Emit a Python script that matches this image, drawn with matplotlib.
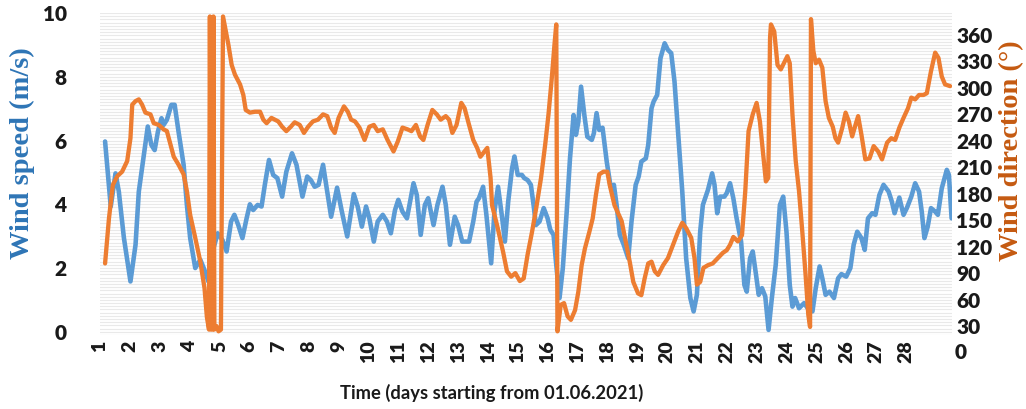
import matplotlib
matplotlib.use("Agg")
import matplotlib.pyplot as plt
import matplotlib.transforms as mtransforms
import numpy as np

# ---- data (time in days starting from 01.06.2021) ----
speed_t = [1.17, 1.36, 1.52, 1.63, 1.80, 2.02, 2.19, 2.30, 2.41, 2.60, 2.72, 2.83, 2.94, 3.06, 3.13,
           3.24, 3.39, 3.50, 3.63, 3.80, 3.91, 4.02, 4.19, 4.36, 4.52, 4.63, 4.80, 4.94, 5.10, 5.24,
           5.39, 5.50, 5.63, 5.77, 5.91, 6.02, 6.13, 6.28, 6.41, 6.52, 6.66, 6.80, 6.94, 7.10, 7.24,
           7.43, 7.58, 7.78, 7.94, 8.06, 8.19, 8.32, 8.47, 8.61, 8.74, 8.94, 9.10, 9.28, 9.50, 9.63,
           9.77, 9.91, 10.02, 10.17, 10.30, 10.47, 10.61, 10.74, 10.88, 10.99, 11.13, 11.28, 11.50,
           11.61, 11.74, 11.88, 11.99, 12.17, 12.30, 12.47, 12.58, 12.72, 12.88, 12.99, 13.13, 13.36,
           13.50, 13.61, 13.69, 13.83, 13.94, 14.10, 14.21, 14.33, 14.47, 14.56, 14.67, 14.80, 14.88,
           14.99, 15.13, 15.21, 15.32, 15.43, 15.52, 15.60, 15.72, 15.86, 15.99, 16.08, 16.19, 16.28,
           16.39, 16.50, 16.63, 16.74, 16.86, 16.94, 17.02, 17.11, 17.22, 17.32, 17.47, 17.54, 17.63,
           17.72, 17.83, 17.97, 18.10, 18.21, 18.30, 18.41, 18.54, 18.69, 18.80, 18.94, 19.04, 19.13,
           19.28, 19.36, 19.47, 19.54, 19.66, 19.77, 19.91, 20.02, 20.13, 20.24, 20.36, 20.50, 20.63,
           20.77, 20.88, 20.99, 21.10, 21.19, 21.36, 21.50, 21.58, 21.67, 21.77, 21.91, 21.99, 22.10,
           22.21, 22.32, 22.47, 22.58, 22.66, 22.77, 22.86, 22.97, 23.06, 23.17, 23.28, 23.39, 23.50,
           23.63, 23.77, 23.88, 23.99, 24.10, 24.19, 24.28, 24.41, 24.58, 24.74, 24.86, 24.97, 25.10,
           25.19, 25.30, 25.43, 25.58, 25.72, 25.83, 25.99, 26.13, 26.24, 26.36, 26.50, 26.61, 26.72,
           26.86, 26.97, 27.10, 27.24, 27.41, 27.52, 27.61, 27.77, 27.91, 28.02, 28.17, 28.30, 28.43,
           28.52, 28.61, 28.72, 28.83, 28.97, 29.06, 29.19, 29.36, 29.43, 29.52]
speed = [5.97, 3.93, 4.97, 4.40, 2.95, 1.58, 2.73, 4.40, 5.14, 6.44, 5.86, 5.70, 6.28, 6.70, 6.49,
         6.65, 7.12, 7.12, 6.28, 5.24, 3.98, 2.94, 2.00, 2.26, 1.89, 1.58, 2.62, 3.09, 2.88, 2.52,
         3.46, 3.67, 3.35, 2.94, 3.56, 4.00, 3.82, 3.98, 3.93, 4.61, 5.39, 4.92, 4.82, 4.24, 5.02,
         5.60, 5.24, 4.24, 4.87, 4.76, 4.55, 4.61, 5.24, 4.40, 3.61, 4.52, 3.77, 2.99, 4.32, 3.93,
         3.30, 3.93, 3.56, 2.83, 3.46, 3.67, 3.46, 3.09, 3.82, 4.14, 3.77, 3.56, 4.66,
         4.29, 3.04, 3.98, 4.19, 3.35, 3.98, 4.55, 3.98, 2.73, 3.61, 3.35, 2.83, 2.83,
         3.46, 4.08, 4.19, 4.55, 3.67, 2.15, 3.77, 4.55, 3.56, 2.83, 4.08, 5.13, 5.50,
         4.92, 4.92, 4.82, 4.76, 4.61, 3.98, 3.35, 3.46, 3.88, 3.56, 3.20, 3.04, 2.10,
         1.06, 2.00, 3.77, 5.44, 6.80, 6.18, 6.59, 7.69, 6.80, 6.12, 6.02, 6.23, 6.86,
         6.33, 6.40, 5.34, 4.55, 4.61, 3.98, 3.04, 2.73, 2.31, 3.46, 4.61, 4.87, 5.34,
         5.44, 5.86, 7.01, 7.22, 7.43, 8.58, 9.05, 8.84, 8.74, 7.85, 6.28, 4.40, 2.31,
         1.06, 0.64, 1.16, 3.14, 3.98, 4.45, 4.97, 4.61, 3.72, 4.24, 4.24, 4.35, 4.66,
         4.19, 3.56, 2.83, 1.47, 1.26, 2.31, 2.52, 1.79, 1.16, 1.37, 1.11, 0.06, 1.06,
         2.10, 3.98, 4.24, 3.14, 1.47, 0.79, 1.06, 0.74, 0.90, 0.69, 0.64, 1.37, 2.05,
         1.68, 1.16, 1.26, 1.06, 1.68, 1.81, 1.73, 2.00, 2.73, 3.14, 2.94, 2.57, 3.56,
         3.72, 3.67, 4.29, 4.61, 4.40, 4.08, 3.72, 4.21, 3.67, 3.88, 4.24, 4.66, 4.40,
         3.77, 2.94, 3.30, 3.88, 3.77, 3.67, 4.50, 5.08, 4.92, 3.56]

dir_t = [1.17, 1.30, 1.43, 1.58, 1.74, 1.91, 2.02, 2.08, 2.19, 2.30, 2.41, 2.52, 2.69, 2.80, 2.97,
         3.13, 3.24, 3.36, 3.47, 3.63, 3.80, 3.91, 4.02, 4.19, 4.36, 4.50, 4.58, 4.65, 4.68, 4.72,
         4.77, 4.80, 4.83, 4.90, 4.97, 5.05, 5.12, 5.30, 5.41, 5.52, 5.69, 5.80, 5.88, 6.02, 6.19,
         6.36, 6.47, 6.58, 6.74, 6.97, 7.10, 7.24, 7.39, 7.52, 7.69, 7.83, 7.97, 8.13, 8.30, 8.47,
         8.61, 8.74, 8.86, 8.99, 9.17, 9.30, 9.41, 9.54, 9.69, 9.86, 10.02, 10.17, 10.30, 10.47,
         10.63, 10.83, 10.97, 11.13, 11.30, 11.43, 11.58, 11.72, 11.83, 11.97, 12.13, 12.28, 12.41,
         12.58, 12.69, 12.80, 12.94, 13.10, 13.21, 13.36, 13.50, 13.63, 13.74, 13.88, 13.97, 14.08,
         14.13, 14.30, 14.50, 14.63, 14.77, 14.91, 15.06, 15.19, 15.32, 15.47, 15.61, 15.77, 15.91,
         16.02, 16.13, 16.22, 16.28, 16.32, 16.43, 16.54, 16.66, 16.77, 16.91, 17.02, 17.13, 17.24,
         17.39, 17.50, 17.61, 17.72, 17.86, 17.99, 18.07, 18.23, 18.47, 18.63, 18.74, 18.86, 19.02,
         19.13, 19.24, 19.36, 19.47, 19.58, 19.69, 19.86, 20.02, 20.19, 20.36, 20.50, 20.63, 20.80,
         20.91, 20.99, 21.10, 21.21, 21.36, 21.52, 21.69, 21.86, 21.99, 22.10, 22.21, 22.36, 22.50,
         22.61, 22.72, 22.86, 22.99, 23.10, 23.21, 23.30, 23.38, 23.44, 23.47, 23.58, 23.69, 23.80,
         24.02, 24.10, 24.19, 24.30, 24.41, 24.52, 24.63, 24.72, 24.78, 24.81, 24.89, 24.97, 25.08,
         25.19, 25.30, 25.41, 25.54, 25.63, 25.72, 25.86, 25.97, 26.08, 26.19, 26.30, 26.39, 26.50,
         26.63, 26.77, 26.91, 27.06, 27.19, 27.36, 27.50, 27.63, 27.77, 27.91, 28.06, 28.17, 28.30,
         28.43, 28.58, 28.69, 28.83, 28.97, 29.08, 29.19, 29.30, 29.47]
direction = [101, 152, 190, 200, 205, 217, 243, 281, 285, 287, 281, 272, 270, 260, 258,
             253, 251, 236, 222, 213, 202, 183, 156, 130, 103, 73, 40, 26, 381, 26,
             26, 381, 26, 30, 24, 26, 381, 349, 326, 315, 304, 292, 275, 272, 273,
             273, 264, 260, 266, 262, 256, 251, 256, 261, 258, 249, 256, 262, 264, 270,
             268, 255, 249, 266, 279, 273, 264, 262, 255, 241, 256, 258, 251, 253,
             241, 228, 239, 255, 253, 251, 258, 245, 241, 258, 275, 270, 264,
             268, 264, 249, 258, 283, 277, 258, 241, 232, 222, 228, 232, 198,
             167, 144, 114, 92, 86, 90, 81, 84, 111, 137, 164, 198, 236,
             270, 311, 349, 372, 24, 54, 56, 41, 37, 48, 69, 99, 118,
             137, 152, 179, 202, 205, 205, 190, 167, 149, 122, 103, 80, 67,
             65, 84, 101, 103, 92, 88, 99, 107, 122, 137, 147, 141, 130,
             107, 77, 80, 96, 99, 101, 107, 113, 116, 122, 131, 126, 133,
             183, 251, 270, 283, 262, 224, 194, 198, 357, 372, 364, 326, 321,
             336, 328, 270, 217, 183, 137, 88, 43, 29, 378, 342, 328, 332,
             323, 285, 266, 256, 243, 238, 255, 272, 262, 245, 258, 268, 247,
             219, 220, 234, 228, 219, 238, 243, 241, 255, 266, 277, 289, 287,
             292, 292, 294, 319, 340, 334, 313, 304, 302]

day_ticks = list(range(1, 29))
speed_ticks = [0, 2, 4, 6, 8, 10]
dir_ticks = list(range(30, 361, 30))

BLUE = "#5B9BD5"
ORANGE = "#ED7D31"
TXT = "#1a1a1a"
TICKFONT = dict(fontfamily="Lato", fontweight="heavy")

W, H = 1026, 409
fig = plt.figure(figsize=(W / 100, H / 100), dpi=100)
L, R, T, B = 100, 952, 13, 335
ax1 = fig.add_axes([L / W, 1 - B / H, (R - L) / W, (B - T) / H])

# left axis: 0 at y=332px, 10 at y=13px
ppu = (332 - 13) / 10.0
ax1.set_ylim(-(B - 332) / ppu, 10 + (13 - T) / ppu)
ax1.set_xlim(1 + (L - 96) / 30.0, 1 + (R - 96) / 30.0)

for s in ax1.spines.values():
    s.set_visible(False)
ax1.set_yticks(speed_ticks)
ax1.set_yticks(np.arange(-0.1, 10.05, 0.1), minor=True)
ax1.grid(which="minor", axis="y", color="#e9e9e9", lw=0.8)
ax1.grid(which="major", axis="y", color="#e9e9e9", lw=0.8)
ax1.set_axisbelow(True)
ax1.tick_params(axis="y", which="both", length=0)
ax1.tick_params(axis="y", pad=24, labelsize=15, labelcolor=TXT)
ax1.set_xticks(day_ticks)
ax1.tick_params(axis="x", length=0, pad=4, labelsize=14, labelcolor=TXT, labelrotation=90)
for lab in ax1.get_yticklabels() + ax1.get_xticklabels():
    lab.set_fontfamily(TICKFONT["fontfamily"])
    lab.set_fontweight(TICKFONT["fontweight"])

ax1.plot(speed_t, speed, color=BLUE, lw=3.3, solid_joinstyle="round", solid_capstyle="round", zorder=3)

# right axis: 0 at y=352.5px, 360 at y=35px
ax2 = ax1.twinx()
ppd = (352.5 - 35) / 360.0
ax2.set_ylim((352.5 - B) / ppd, (352.5 - T) / ppd)
for s in ax2.spines.values():
    s.set_visible(False)
ax2.set_yticks(dir_ticks)
ax2.tick_params(axis="y", length=0, pad=3, labelsize=15, labelcolor=TXT)
for lab in ax2.get_yticklabels():
    lab.set_fontfamily(TICKFONT["fontfamily"])
    lab.set_fontweight(TICKFONT["fontweight"])
trans = mtransforms.blended_transform_factory(ax2.transAxes, ax2.transData)
ax2.text(1.0 + 3 / (R - L), 0, "0", transform=trans, ha="left", va="center",
         fontsize=15, color=TXT, clip_on=False, **TICKFONT)
ax2.plot(dir_t, direction, color=ORANGE, lw=3.1, solid_joinstyle="round", solid_capstyle="round")

# axis titles
fig.text(22 / W, 1 - 153 / H, "Wind speed (m/s)", rotation=90, ha="center", va="center",
         fontsize=20.5, fontfamily="Liberation Serif", fontweight="bold", color="#2E75B6")
fig.text(1012 / W, 1 - 151 / H, "Wind direction (°)", rotation=90, ha="center", va="center",
         fontsize=20.5, fontfamily="Liberation Serif", fontweight="bold", color="#C55A11")
fig.text(492 / W, 1 - 393 / H, "Time (days starting from 01.06.2021)", ha="center", va="center",
         fontsize=13.2, fontfamily="Lato", fontweight="bold", color=TXT)

fig.savefig("out.png", dpi=100)
